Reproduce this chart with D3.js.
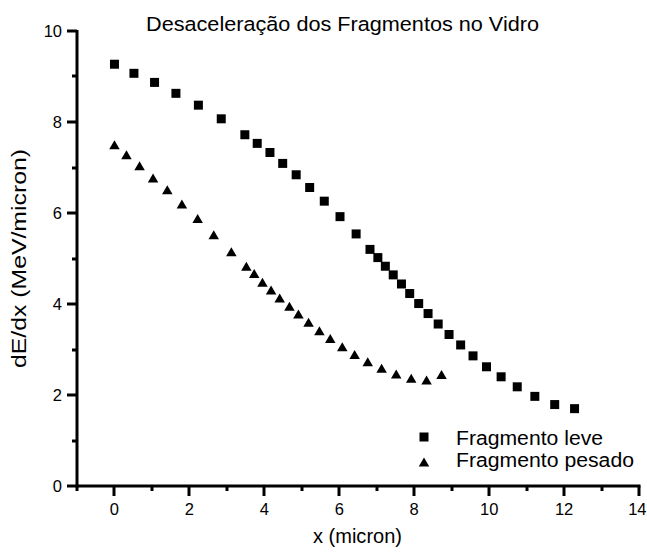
<!DOCTYPE html>
<html>
<head>
<meta charset="utf-8">
<script src="https://cdn.jsdelivr.net/npm/d3@7"></script>
</head>
<body style="margin:0;background:#fff">
<svg id="chart" width="647" height="553" font-family="Liberation Sans, Arial, sans-serif"></svg>
<script>
// Light fragment: position (micron) and stopping power (MeV/micron)
const leveX = [0.00, 0.52, 1.07, 1.64, 2.24, 2.85, 3.48, 3.81, 4.15, 4.49, 4.85, 5.21, 5.60, 6.02, 6.45, 6.82, 7.03,
  7.23, 7.44, 7.66, 7.88, 8.12, 8.37, 8.64, 8.93, 9.24, 9.57, 9.93, 10.32, 10.75, 11.22, 11.75, 12.28];
const leveY = [9.27, 9.07, 8.87, 8.63, 8.37, 8.07, 7.72, 7.53, 7.33, 7.09, 6.84, 6.56, 6.26, 5.92, 5.54, 5.20, 5.02,
  4.83, 4.64, 4.44, 4.23, 4.01, 3.79, 3.56, 3.33, 3.10, 2.86, 2.62, 2.40, 2.18, 1.97, 1.79, 1.70];

// Heavy fragment
const pesadoX = [0.00, 0.32, 0.67, 1.03, 1.41, 1.80, 2.22, 2.65, 3.12, 3.52, 3.73, 3.95, 4.18, 4.41, 4.67, 4.91,
  5.18, 5.47, 5.76, 6.08, 6.41, 6.76, 7.13, 7.52, 7.92, 8.33, 8.73];
const pesadoY = [7.50, 7.28, 7.04, 6.77, 6.51, 6.20, 5.88, 5.52, 5.15, 4.83, 4.67, 4.48, 4.31, 4.13, 3.95, 3.78,
  3.60, 3.41, 3.24, 3.06, 2.89, 2.73, 2.59, 2.46, 2.37, 2.33, 2.45];

const xMajorTicks = [0, 2, 4, 6, 8, 10, 12, 14];
const xMinorTicks = [-1, 1, 3, 5, 7, 9, 11, 13];
const yMajorTicks = [0, 2, 4, 6, 8, 10];
const yMinorTicks = [1, 3, 5, 7, 9];

const titleText = "Desaceleração dos Fragmentos no Vidro";
const xLabel = "x (micron)";
const yLabel = "dE/dx (MeV/micron)";
const seriesNames = ["Fragmento leve", "Fragmento pesado"];

const svg = d3.select("#chart");

const x = d3.scaleLinear().domain([-1, 14]).range([77, 639]);
const y = d3.scaleLinear().domain([0, 10]).range([486, 31]);

const AXIS_W = 3;
const MAJOR = 10, MINOR = 5;

// Text fitted to a given width
function label(g, txt, size, len) {
  return g.append("text")
    .attr("fill", "#000")
    .attr("font-size", size)
    .attr("textLength", len)
    .attr("lengthAdjust", "spacingAndGlyphs")
    .text(txt);
}

// Title
label(svg, titleText, 20.5, 393)
  .attr("x", 146).attr("y", 30.5);

// Tick labels
svg.append("g").selectAll("text").data(xMajorTicks).join("text")
  .attr("fill", "#000").attr("font-size", 16.5)
  .attr("text-anchor", d => d === 14 ? "end" : "middle")
  .attr("x", d => d === 14 ? x(d) + 7.5 : x(d))
  .attr("y", y(0) + 29)
  .text(d3.format("d"));
svg.append("g").selectAll("text").data(yMajorTicks).join("text")
  .attr("fill", "#000").attr("font-size", 16.5)
  .attr("text-anchor", "end")
  .attr("x", x(-1) - MAJOR - 5)
  .attr("y", d => y(d) + 6)
  .text(d3.format("d"));

// Axis titles
label(svg, xLabel, 20, 89)
  .attr("x", 313).attr("y", 543);
label(svg, yLabel, 20, 219)
  .attr("transform", "translate(26,368) rotate(-90)");

// Markers
const SQ = 9;
const TRI_W = 10.5, TRI_H = 9;
const squarePath = `M${-SQ / 2},${-SQ / 2}h${SQ}v${SQ}h${-SQ}Z`;
const trianglePath = `M0,${-TRI_H / 2}L${TRI_W / 2},${TRI_H / 2}L${-TRI_W / 2},${TRI_H / 2}Z`;

const leve = leveX.map((v, i) => ({ x: v, y: leveY[i] }));
const pesado = pesadoX.map((v, i) => ({ x: v, y: pesadoY[i] }));

svg.append("g").selectAll("path").data(leve).join("path")
  .attr("d", squarePath)
  .attr("transform", d => `translate(${x(d.x)},${y(d.y)})`)
  .attr("fill", "#000");

svg.append("g").selectAll("path").data(pesado).join("path")
  .attr("d", trianglePath)
  .attr("transform", d => `translate(${x(d.x)},${y(d.y)})`)
  .attr("fill", "#000");

// Legend
const legend = svg.append("g");
legend.append("path").attr("d", squarePath).attr("transform", "translate(424,437)").attr("fill", "#000");
legend.append("path").attr("d", trianglePath).attr("transform", "translate(424,462)").attr("fill", "#000");
label(legend, seriesNames[0], 20, 147).attr("x", 456).attr("y", 444.5);
label(legend, seriesNames[1], 20, 178).attr("x", 456).attr("y", 466.7);

// Axis lines and tick marks
const x0 = Math.round(x(-1)), y0 = Math.round(y(0));
const axes = svg.append("g");
axes.append("line")
  .attr("x1", x0 - 1).attr("x2", Math.round(x(14)) + 1.5).attr("y1", y0).attr("y2", y0)
  .attr("stroke", "#000").attr("stroke-width", AXIS_W);
axes.append("line")
  .attr("x1", x0).attr("x2", x0).attr("y1", y0 + 1.5).attr("y2", Math.round(y(10)) - 1)
  .attr("stroke", "#000").attr("stroke-width", AXIS_W);
axes.selectAll(".xt").data(xMajorTicks.map(v => [v, MAJOR]).concat(xMinorTicks.map(v => [v, MINOR])))
  .join("line").attr("class", "xt")
  .attr("x1", d => Math.round(x(d[0]))).attr("x2", d => Math.round(x(d[0])))
  .attr("y1", y0).attr("y2", d => y0 + d[1])
  .attr("stroke", "#000").attr("stroke-width", AXIS_W);
axes.selectAll(".yt").data(yMajorTicks.map(v => [v, MAJOR]).concat(yMinorTicks.map(v => [v, MINOR])))
  .join("line").attr("class", "yt")
  .attr("x1", x0).attr("x2", d => x0 - d[1])
  .attr("y1", d => Math.round(y(d[0]))).attr("y2", d => Math.round(y(d[0])))
  .attr("stroke", "#000").attr("stroke-width", AXIS_W);
</script>
</body>
</html>
